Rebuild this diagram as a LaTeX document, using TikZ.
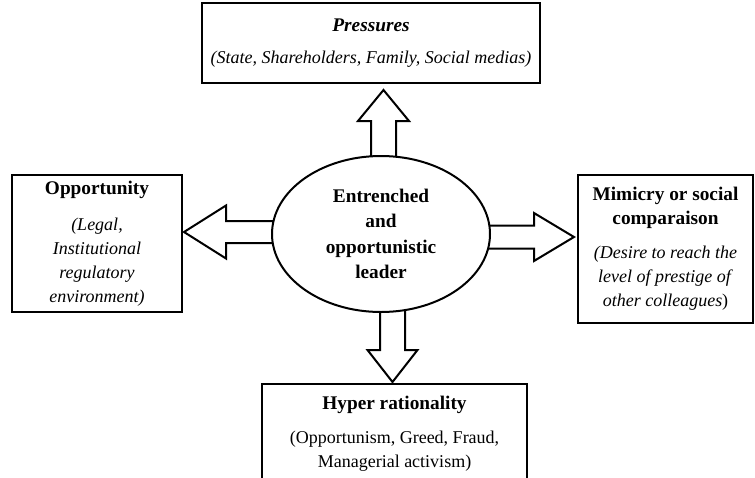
\documentclass[tikz,border=0pt]{standalone}
\usepackage{fontspec}
\setmainfont{Liberation Serif}
\usetikzlibrary{shapes.geometric,calc}

\tikzset{
  box/.style={draw, line width=2pt, fill=white, align=center, inner sep=0pt},
  leader/.style={ellipse, draw, line width=2pt, fill=white, align=center, inner sep=0pt,
    minimum width=218pt, minimum height=156pt, font=\fontsize{19.3}{25.5}\selectfont\bfseries},
  fatarrow/.style={draw, line width=2pt, fill=white, line join=miter},
}

% bold heading in the boxes
\newcommand{\boxtitle}[1]{{\fontsize{19.3}{24}\selectfont\bfseries #1}}

% #1 start, #2 tip, #3 half shaft, #4 half head, #5 head length
\newcommand{\blockarrow}[5]{%
  \coordinate (ba-h) at ($(#2)!#5!(#1)$);
  \draw[fatarrow] ($(#1)!#3!90:(#2)$) -- ($(ba-h)!#3!90:(#2)$) -- ($(ba-h)!#4!90:(#2)$)
    -- (#2) -- ($(ba-h)!#4!-90:(#2)$) -- ($(ba-h)!#3!-90:(#2)$) -- ($(#1)!#3!-90:(#2)$) -- cycle;
}

\begin{document}
\begin{tikzpicture}[x=1pt, y=-1pt, font=\fontsize{18}{24}\selectfont]
  \clip (0,0) rectangle (755,477);

  % outer boxes
  \node[box, minimum width=338pt, minimum height=80pt] (press) at (371,43)
    {\boxtitle{\textit{Pressures}}\\[8pt] \textit{(State, Shareholders, Family, Social medias)}};
  \node[box, minimum width=170pt, minimum height=137pt] (opp) at (97,243.5)
    {\boxtitle{Opportunity}\\[12pt] \textit{(Legal,}\\ \textit{Institutional}\\ \textit{regulatory}\\ \textit{environment)}};
  \node[box, minimum width=175pt, minimum height=148pt] (mim) at (665.5,249)
    {\boxtitle{Mimicry or social}\\ \boxtitle{comparaison}\\[10pt] \textit{(Desire to reach the}\\ \textit{level of prestige of}\\ \textit{other colleagues})};
  \node[box, minimum width=265pt, minimum height=99pt, anchor=north] (hyper) at (394.5,383)
    {\boxtitle{Hyper rationality}\\[10pt] (Opportunism, Greed, Fraud,\\ Managerial activism)};

  % arrows out of the leader
  \coordinate (mid) at (381,234);
  \blockarrow{$(mid)+(2.5,0)$}{$(press.south)+(12.5,6)$}{12.5pt}{25.5pt}{31pt}
  \blockarrow{$(mid)+(0,-2)$}{$(opp.east)+(1,-11.5)$}{11pt}{26.5pt}{42pt}
  \blockarrow{$(mid)+(0,3)$}{$(mim.west)+(-3,-12)$}{11.5pt}{24pt}{40pt}
  \blockarrow{$(mid)+(11.5,0)$}{$(hyper.north)+(-2,-1)$}{12.5pt}{25pt}{32pt}

  \node[leader] (leader) at ($(mid)+(0,0)$) {Entrenched\\ and\\ opportunistic\\ leader};
\end{tikzpicture}
\end{document}
